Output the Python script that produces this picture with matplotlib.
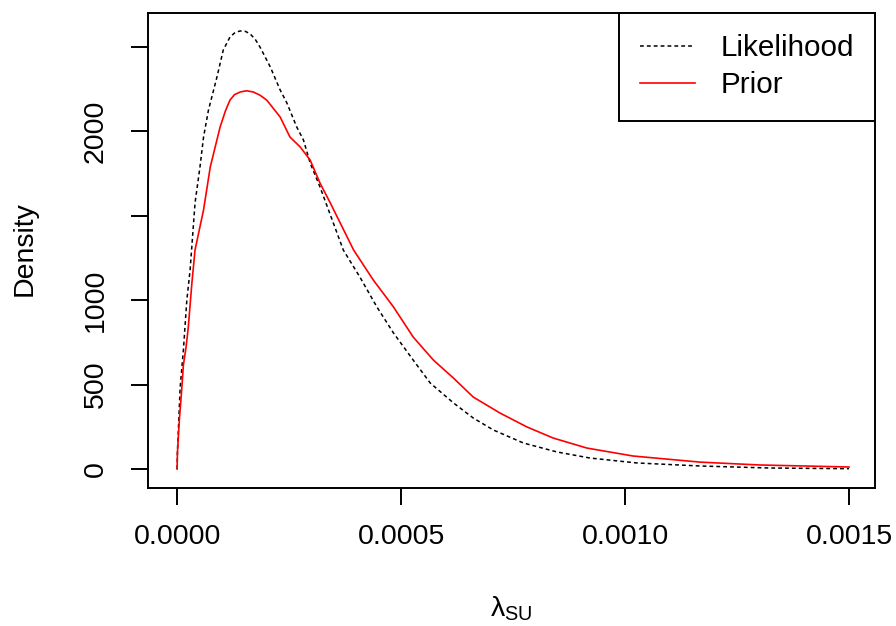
import matplotlib
matplotlib.use('Agg')
import matplotlib.pyplot as plt

plt.rcParams['font.family'] = ['Liberation Sans', 'DejaVu Sans']
plt.rcParams['mathtext.fontset'] = 'custom'
plt.rcParams['mathtext.rm'] = 'Liberation Sans'

# valores (lambda_SU, densidade)
lik_x = [0.0, 0.0000007, 0.0000067, 0.000014, 0.0000217, 0.000029, 0.00004, 0.000051,
         0.000059, 0.00007, 0.000089, 0.000103, 0.000118, 0.00013, 0.000141, 0.000152,
         0.000163, 0.000175, 0.000185,
         0.000208, 0.00023, 0.000245, 0.000267, 0.000282, 0.000297, 0.000319, 0.000371,
         0.000408, 0.000446, 0.000483, 0.000527, 0.000565, 0.000617, 0.000661, 0.000706,
         0.000773, 0.000848, 0.000922, 0.001026, 0.001167, 0.001324, 0.0015]
lik_y = [0, 100, 479, 704, 1000, 1178, 1574, 1787,
         1964, 2124, 2320, 2479, 2556, 2584, 2592, 2590,
         2575, 2540, 2497,
         2379, 2243, 2166, 2024, 1947, 1811, 1669, 1296,
         1136, 959, 805, 645, 509, 391, 302, 231,
         154, 101, 65, 36, 18, 6, 2]

pri_x = [0.0, 0.0000007, 0.000005, 0.0000105, 0.000014, 0.00002, 0.000025, 0.000033,
         0.00004, 0.000059, 0.000074, 0.000096, 0.000108, 0.000118, 0.000128, 0.000141,
         0.000155, 0.00017, 0.000185, 0.0002,
         0.00023, 0.000252, 0.000275, 0.000297, 0.000319, 0.000342, 0.000394, 0.000438,
         0.000483, 0.000527, 0.000572, 0.000617, 0.000661, 0.000721, 0.000781, 0.00084,
         0.000915, 0.001018, 0.001167, 0.0013, 0.0015]
pri_y = [0, 95, 290, 479, 615, 722, 840, 1101,
         1296, 1533, 1787, 2024, 2120, 2183, 2215, 2231,
         2238, 2231, 2212, 2183,
         2083, 1964, 1905, 1828, 1692, 1574, 1296, 1118,
         959, 781, 645, 538, 426, 331, 249, 183,
         124, 77, 41, 24, 12]

xticks = [0.0, 0.0005, 0.0010, 0.0015]
xtick_labels = ['0.0000', '0.0005', '0.0010', '0.0015']
yticks = [0, 500, 1000, 1500, 2000, 2500]
ytick_labels = ['0', '500', '1000', '', '2000', '']

fs = 20.5
fig = plt.figure(figsize=(8.96, 6.26), dpi=100)
ax = fig.add_axes([148/896, 1 - 488.3/626, (875 - 148)/896, (488.3 - 12.7)/626])

ax.plot(lik_x, lik_y, color='black', lw=1.1, dashes=(2.5, 2), label='Likelihood')
ax.plot(pri_x, pri_y, color='#FF0000', lw=1.2, label='Prior')

ax.set_xlim(-0.000065, 0.001558)
ax.set_ylim(-114, 2700)

ax.set_xticks(xticks)
ax.set_xticklabels(xtick_labels)
ax.set_yticks(yticks)
ax.set_yticklabels(ytick_labels)
ax.tick_params(axis='both', direction='out', length=12, width=1.4, labelsize=fs)
ax.tick_params(axis='x', pad=14)
ax.tick_params(axis='y', pad=16, labelrotation=90)
for lab in ax.get_yticklabels():
    lab.set_va('center')

# eixos em estilo R: caixa em volta, ticks só embaixo e à esquerda
for s in ax.spines.values():
    s.set_linewidth(1.4)
    s.set_color('black')

fig.text(25/896, 1 - 249/626, 'Density', rotation=90, ha='center', va='center', fontsize=fs)
fig.text(511/896, 1 - 609/626, r'λ$_{\mathrm{SU}}$', ha='center', va='center', fontsize=fs)

leg = ax.legend(loc='upper right', borderaxespad=0, fancybox=False, framealpha=1,
                edgecolor='black', fontsize=21.3, handlelength=1.85, handletextpad=0.85,
                labelspacing=0.32, borderpad=0.72)
leg.get_frame().set_linewidth(1.4)

fig.savefig('out.png', dpi=100)
